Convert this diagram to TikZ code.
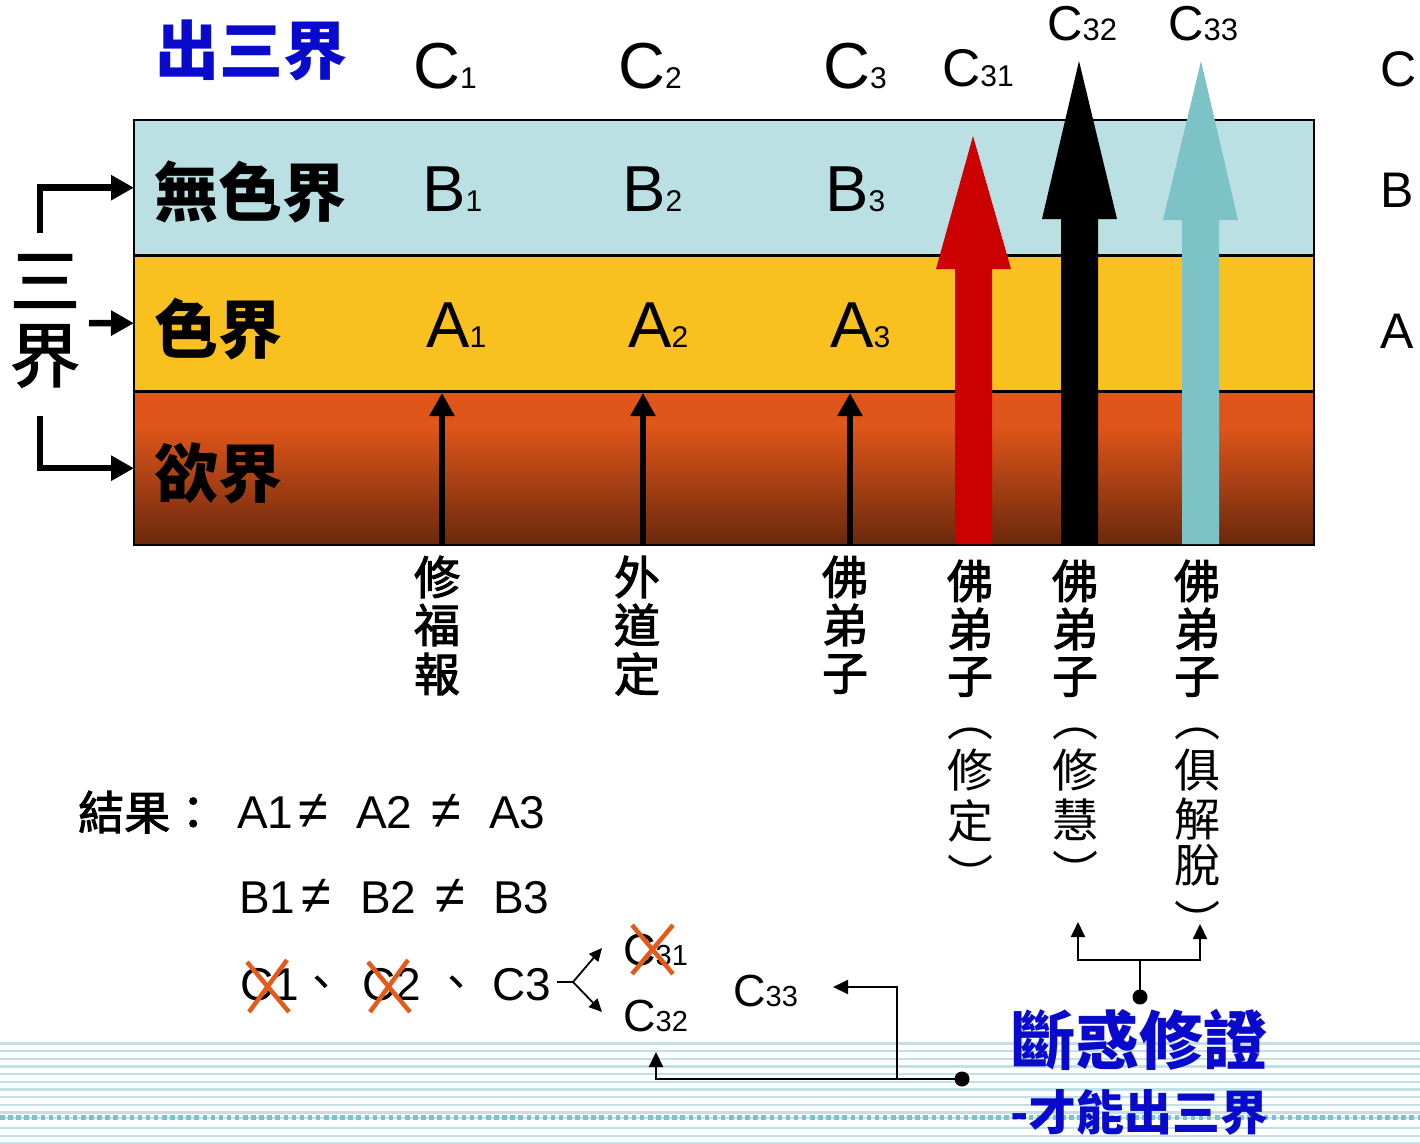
\documentclass[tikz,border=0pt]{standalone}
\usepackage{fontspec}
\setmainfont{Liberation Sans}
\newfontfamily\cjk{Noto Sans CJK TC}
\newfontfamily\cjkm[FakeBold=2.2]{Noto Sans CJK TC}
\usetikzlibrary{arrows.meta,calc}
\newcommand\subdg[1]{{\fontsize{30}{30}\selectfont #1}}
\definecolor{bandB}{HTML}{BAE0E3}
\definecolor{bandA}{HTML}{F9C120}
\definecolor{bandT}{HTML}{E0561A}
\definecolor{bandD}{HTML}{6A280D}
\definecolor{redarr}{HTML}{CC0000}
\definecolor{tealarr}{HTML}{7CC2C7}
\definecolor{deepblue}{HTML}{0A0ACC}
\definecolor{crossred}{HTML}{E35A1A}
\definecolor{stripe}{HTML}{C0E2E5}
\definecolor{dotstripe}{HTML}{7CC3C8}
\begin{document}
\begin{tikzpicture}[x=1pt,y=-1pt,
  lat/.style={inner sep=0pt, anchor=base west, font=\fontsize{65}{65}\selectfont},
  latm/.style={inner sep=0pt, anchor=base west, font=\fontsize{50}{50}\selectfont},
  res/.style={inner sep=0pt, anchor=base west, font=\fontsize{46}{46}\selectfont},
  neq/.style={inner sep=0pt, anchor=base west, font=\fontsize{54}{54}\selectfont},
  cjkb/.style={inner sep=0pt, anchor=west, font=\cjk\bfseries\fontsize{64}{64}\selectfont},
  vb/.style={inner sep=0pt, font=\cjkm\fontsize{46}{46}\selectfont},
  vr/.style={inner sep=0pt, font=\cjk\fontsize{46}{46}\selectfont},
  band/.style={inner sep=0pt, minimum width=1180pt, anchor=north west, draw=none},
  brk/.style={line width=6.5pt, -{Triangle[length=23pt,width=24pt]}},
  upar/.style={line width=5.5pt, -{Triangle[length=23pt,width=24pt]}},
  conn/.style={line width=2pt, -{Triangle[length=15pt,width=14pt]}},
  plain/.style={line width=2pt},
  xmark/.style={draw=crossred, line width=4.5pt},
  dotn/.style={circle, fill=black, inner sep=0pt, minimum size=15pt},
  stripeline/.style={draw=stripe, line width=2.4pt}
]
\useasboundingbox (0,0) rectangle (1420,1143);
% background stripes
\foreach \yy in {1043.3,1051,1058.7,1066.4,1074.1,1081.8,1089.5,1097.2,1104.9,1112.6,1117.7,1128,1135.7,1143}
  \draw[stripeline] (0,\yy) -- (1420,\yy);
\draw[dotstripe, line width=4.5pt, dash pattern=on 4.5pt off 3.6pt] (0,1117.7) -- (1420,1117.7);

% bands
\node[band, fill=bandB, minimum height=135pt] (bandB) at (134,120) {};
\node[band, fill=bandA, minimum height=136pt] (bandA) at (134,255) {};
\node[band, fill=bandT, minimum height=154pt] (bandK) at (134,391) {};
\shade[top color=bandT, bottom color=bandD] (134,425) rectangle (1314,545);
\draw[line width=2.2pt] (134,255.5) -- (1314,255.5);
\draw[line width=2.2pt] (134,391.5) -- (1314,391.5);
\draw[line width=2.5pt] (134,120) rectangle (1314,545);

% big arrows
\fill[redarr] (955,544) -- (955,269) -- (936,269) -- (973,136) -- (1011,269) -- (992,269) -- (992,544) -- cycle;
\fill[black] (1061,544) -- (1061,219) -- (1042,219) -- (1079,61) -- (1117,219) -- (1098,219) -- (1098,544) -- cycle;
\fill[tealarr] (1182,544) -- (1182,220) -- (1163,220) -- (1201,61) -- (1238,220) -- (1219,220) -- (1219,544) -- cycle;

% small arrows
\coordinate (s1b) at (442,544); \coordinate (s1t) at (442,393);
\coordinate (s2b) at (643,544); \coordinate (s2t) at (643,393);
\coordinate (s3b) at (850,544); \coordinate (s3t) at (850,393);
\draw[upar] (s1b) -- (s1t);
\draw[upar] (s2b) -- (s2t);
\draw[upar] (s3b) -- (s3t);

% left bracket
\node[inner sep=0pt, font=\cjkm\fontsize{70}{70}\selectfont] (san) at (45,281) {三};
\node[inner sep=0pt, font=\cjkm\fontsize{70}{70}\selectfont] (jie) at (45,356) {界};
\coordinate (brT) at (40,233);
\coordinate (brM) at (89,323);
\coordinate (brB) at (40,416);
\draw[brk] (brT) |- (bandB.west);
\draw[brk] (brM) -- (bandA.west);
\draw[brk] (brB) |- (bandK.west);

% band titles
\node[cjkb, text=deepblue] (chu) at (155,50) {出三界};
\node[cjkb] (wuse) at (154,192) {無色界};
\node[cjkb] (sejie) at (154,329) {色界};
\node[cjkb] (yujie) at (154,473) {欲界};

% top labels
\node[lat] (C1) at (413,88) {C\subdg{1}};
\node[lat] (C2) at (618,88) {C\subdg{2}};
\node[lat] (C3) at (823,88) {C\subdg{3}};
\node[inner sep=0pt, anchor=base west, font=\fontsize{53}{53}\selectfont] (C31t) at (942,86) {C{\fontsize{30}{30}\selectfont 31}};
\node[inner sep=0pt, anchor=base west, font=\fontsize{49}{49}\selectfont] (C32t) at (1047,40) {C{\fontsize{31}{31}\selectfont 32}};
\node[inner sep=0pt, anchor=base west, font=\fontsize{49}{49}\selectfont] (C33t) at (1168,40) {C{\fontsize{31}{31}\selectfont 33}};
\node[latm] (Cr) at (1380,86) {C};
\node[latm] (Br) at (1380,207) {B};
\node[latm] (Ar) at (1380,348) {A};
\node[lat] (B1) at (422,211) {B\subdg{1}};
\node[lat] (B2) at (622,211) {B\subdg{2}};
\node[lat] (B3) at (825,211) {B\subdg{3}};
\node[lat] (A1) at (426,347) {A\subdg{1}};
\node[lat] (A2) at (628,347) {A\subdg{2}};
\node[lat] (A3) at (830,347) {A\subdg{3}};

% vertical labels
\foreach \ch/\yy [count=\i] in {修/577,福/625,報/674} \node[vb] (xf\i) at (437,\yy) {\ch};
\foreach \ch/\yy [count=\i] in {外/577,道/625,定/674} \node[vb] (wd\i) at (637,\yy) {\ch};
\foreach \ch/\yy [count=\i] in {佛/577,弟/625,子/674} \node[vb] (fd\i) at (845,\yy) {\ch};
\foreach \x [count=\k] in {970,1075,1197}
  \foreach \ch/\yy [count=\i] in {佛/581,弟/629,子/677} \node[vb] (fz\k-\i) at (\x,\yy) {\ch};
\foreach \ch/\yy [count=\i] in {︵/734,修/770,定/821,︶/874} \node[vr] (xd\i) at (970,\yy) {\ch};
\foreach \ch/\yy [count=\i] in {︵/734,修/770,慧/820,︶/870} \node[vr] (xh\i) at (1075,\yy) {\ch};
\foreach \ch/\yy [count=\i] in {︵/734,俱/770,解/819,脫/865,︶/920} \node[vr] (jj\i) at (1197,\yy) {\ch};

% results
\node[inner sep=0pt, anchor=west, font=\cjkm\fontsize{46}{46}\selectfont] (jieguo) at (78,812) {結果：};
\node[res] (rA1) at (237,828) {A1};
\node[neq] (rn1) at (298,828) {≠};
\node[res] (rA2) at (356,828) {A2};
\node[neq] (rn2) at (431,828) {≠};
\node[res] (rA3) at (489,828) {A3};
\node[res] (rB1) at (239,913) {B1};
\node[neq] (rn3) at (301,913) {≠};
\node[res] (rB2) at (360,913) {B2};
\node[neq] (rn4) at (435,913) {≠};
\node[res] (rB3) at (493,913) {B3};
\node[res] (rC1) at (240,1000) {C1};
\node[inner sep=0pt, font=\cjk\fontsize{46}{46}\selectfont] (dun1) at (321,988) {、};
\node[res] (rC2) at (362,1000) {C2};
\node[inner sep=0pt, font=\cjk\fontsize{46}{46}\selectfont] (dun2) at (456,988) {、};
\node[res] (rC3) at (492,1000) {C3};
\draw[xmark] (247,962) -- (289,1012);
\draw[xmark] (249,1012) -- (287,960);
\draw[xmark] (368,962) -- (410,1012);
\draw[xmark] (370,1012) -- (408,960);

% fork
\coordinate (fk0) at (557,982);
\coordinate (fk) at (573,982);
\coordinate (fkU) at (602,948);
\coordinate (fkD) at (602,1012);
\draw[plain] (fk0) -- (fk);
\draw[line width=1.8pt, -{Triangle[length=13pt,width=12pt]}] (fk) -- (fkU);
\draw[line width=1.8pt, -{Triangle[length=13pt,width=12pt]}] (fk) -- (fkD);

% lower C labels
\node[inner sep=0pt, anchor=base west, font=\fontsize{45}{45}\selectfont] (C31b) at (623,965) {C{\fontsize{29}{29}\selectfont 31}};
\node[inner sep=0pt, anchor=base west, font=\fontsize{45}{45}\selectfont] (C32b) at (623,1031) {C{\fontsize{29}{29}\selectfont 32}};
\node[inner sep=0pt, anchor=base west, font=\fontsize{45}{45}\selectfont] (C33b) at (733,1006) {C{\fontsize{29}{29}\selectfont 33}};
\draw[xmark] (632,925) -- (673,974);
\draw[xmark] (632,974) -- (673,925);

% blue texts
\node[inner sep=0pt, anchor=west, text=deepblue, font=\cjk\bfseries\fontsize{64}{64}\selectfont] (duan) at (1011,1040) {斷惑修證};
\node[inner sep=0pt, anchor=west, text=deepblue, font=\cjk\bfseries\fontsize{48}{48}\selectfont] (cai) at (1010,1112) {-才能出三界};

% connectors
\node[dotn] (dotA) at (962,1079) {};
\node[dotn] (dotB) at (1140,997) {};
\coordinate (c32tip) at (656,1052);
\coordinate (j2) at (897,1079);
\coordinate (c33tip) at (833,987);
\coordinate (j3) at (1140,960);
\coordinate (tipL) at (1078,922);
\coordinate (tipR) at (1200,924);
\draw[conn] (dotA.center) -| (c32tip);
\draw[conn] (j2) |- (c33tip);
\draw[plain] (dotB.center) -- (j3);
\draw[conn] (j3) -| (tipL);
\draw[conn] (j3) -| (tipR);
\end{tikzpicture}
\end{document}
